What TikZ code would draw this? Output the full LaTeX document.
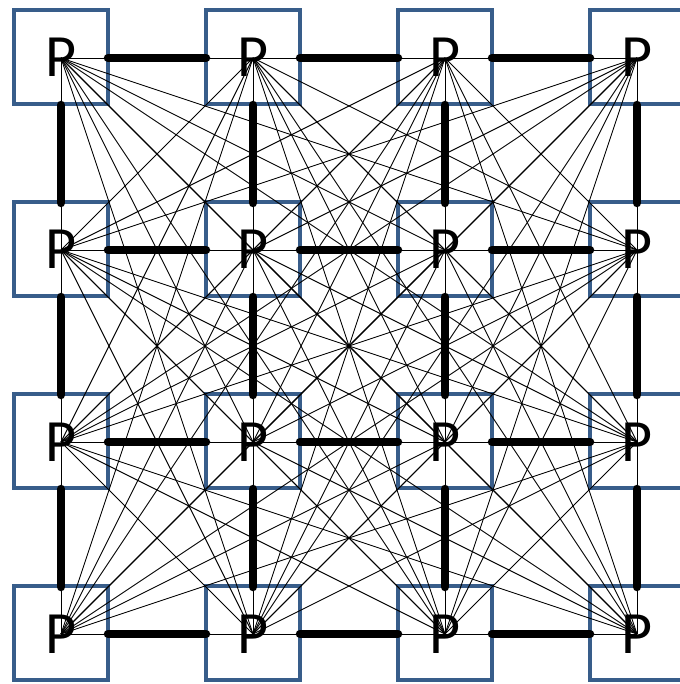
\documentclass[tikz,border=0pt]{standalone}
\usepackage{fontspec}
\setmainfont{Carlito}
\definecolor{boxblue}{HTML}{385D8A}
\begin{document}
\begin{tikzpicture}[x=1pt,y=-1pt,
  cell/.style={draw=boxblue, line width=3.6pt, rectangle, minimum size=94pt, inner sep=0pt},
  link/.style={black, line width=0.9pt},
  bar/.style={black, line width=8.5pt, line cap=round, shorten >=47pt, shorten <=47pt},
  plabel/.style={inner sep=0pt, anchor=base, yshift=-19pt, font=\fontsize{60}{60}\selectfont}]
\useasboundingbox (0,0) rectangle (679,684);
\foreach \i in {0,...,3}{
  \foreach \j in {0,...,3}{
    \coordinate (v\i\j) at ({61+192*\i},{58+192*\j});
  }}
% squares
\foreach \i in {0,...,3}{
  \foreach \j in {0,...,3}{
    \node[cell, yshift=1pt] (s\i\j) at (v\i\j) {};
  }}
% all-pairs thin links
\foreach \a in {0,...,15}{
  \pgfmathtruncatemacro{\ai}{mod(\a,4)}
  \pgfmathtruncatemacro{\aj}{div(\a,4)}
  \foreach \b in {\a,...,15}{
    \pgfmathtruncatemacro{\bi}{mod(\b,4)}
    \pgfmathtruncatemacro{\bj}{div(\b,4)}
    \draw[link] (v\ai\aj) -- (v\bi\bj);
  }}
% thick neighbour bars
\foreach \i/\n in {0/1,1/2,2/3}{
  \foreach \j in {0,...,3}{
    \draw[bar] (v\i\j) -- (v\n\j);
    \draw[bar] (v\j\i) -- (v\j\n);
  }}
% labels
\foreach \i in {0,...,3}{
  \foreach \j in {0,...,3}{
    \node[plabel] (p\i\j) at (v\i\j) {P};
  }}
\end{tikzpicture}
\end{document}
